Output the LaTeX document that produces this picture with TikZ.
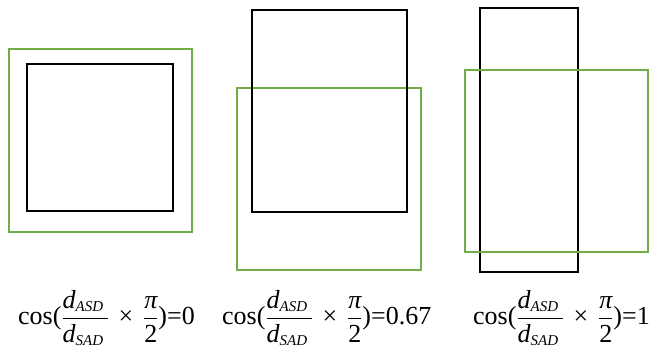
\documentclass[tikz,border=0pt]{standalone}
\usepackage{amsmath}
\usepackage{fontspec}
\setmainfont{Liberation Serif}
\usepackage{tikz}
\usepackage{xcolor}
\definecolor{boxgreen}{HTML}{70AD47}
\tikzset{
    blackBox/.style={draw=black, line width=2.4pt},
    greenBox/.style={draw=boxgreen, line width=2.4pt},
    formula/.style={anchor=west, inner sep=0pt, font=\fontsize{26}{30}\selectfont}
}
\newcommand{\dstrut}{\rule{0pt}{20pt}}
\newcommand{\dsub}[1]{\text{\fontsize{15}{15}\selectfont\itshape #1}}
\newcommand{\cosratio}[1]{$\text{cos(}\dfrac{\textit{d}_{\dsub{ASD}}\,}{\dstrut\textit{d}_{\dsub{SAD}}\,}\,\mathbin{\text{×}}\,\dfrac{\textit{π}}{\dstrut\text{2}}\text{)=#1}$}

\begin{document}
\begin{tikzpicture}[x=1pt, y=-1pt]
    \useasboundingbox (0,0) rectangle (649,349);

    % Left pair - green encloses black
    \draw[greenBox] (9,49) rectangle (192,232);
    \draw[blackBox] (27,64) rectangle (173,211);
    \node[formula] (f1) at (18,318) {\cosratio{0}};

    % Middle pair - partial overlap
    \draw[greenBox] (237,88) rectangle (421,270);
    \draw[blackBox] (252,10) rectangle (407,212);
    \node[formula] (f2) at (222,318) {\cosratio{0.67}};

    % Right pair - crossing
    \draw[blackBox] (480,8) rectangle (578,272);
    \draw[greenBox] (465,70) rectangle (648,252);
    \node[formula] (f3) at (473,318) {\cosratio{1}};

\end{tikzpicture}
\end{document}
